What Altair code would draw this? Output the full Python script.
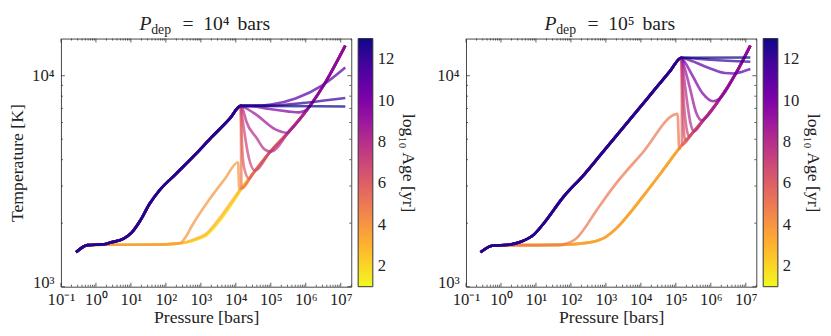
import altair as alt
import pandas as pd

SERIF = "Liberation Serif"

# ---------------- Panel 1 : P_dep = 1e4 bars ----------------
HOT1_P = [0.27, 0.57, 1.7, 2.6, 6.2, 10.5, 18, 35, 66, 195, 710, 2000, 6900, 1.38e4]
HOT1_T = [1456, 1574, 1589, 1619, 1690, 1803, 2042, 2484, 2865, 3427, 4250, 5100, 6300, 7200]
COLD1_P = [0.27, 0.57, 1.7, 10, 50, 195, 400, 800, 1340, 3170, 7500, 1.3e4]
COLD1_T = [1456, 1574, 1580, 1580, 1582, 1600, 1630, 1700, 1771, 2080, 2530, 2865]
YOUNG1_T = [1456, 1574, 1580, 1580, 1582, 1600, 1625, 1680, 1740, 2020, 2460, 2830]
DEEP1_P = [1.45e4, 3e4, 9.3e4, 3.35e5, 1.36e6, 3.2e6, 1.35e7]
DEEP1_T = [2920, 3415, 4330, 5450, 7250, 8980, 13900]
RAMP1_P = [270, 350, 563, 1660, 4900, 1.16e4, 1.25e4]
RAMP1_T = [1618, 1700, 1950, 2560, 3250, 3890, 2900]

# branches below the knee (age: (P list, T list, deep-adiabat rejoin pressure))
BR1 = {
    5: ([1.41e4], [4800], 1.45e4),
    6: ([1.42e4, 1.5e4, 1.7e4, 2.4e4], [6300, 4800, 3700, 3250], 3e4),
    7: ([1.5e4, 1.8e4, 2.2e4, 3.5e4], [6500, 5260, 4300, 3560], 9e4),
    8: ([1.6e4, 2.0e4, 3.9e4, 6.6e4, 1.02e5], [6900, 6070, 5080, 4480, 4370], 3e5),
    9: ([1.7e4, 3.9e4, 1.4e5, 3e5], [7100, 6520, 5550, 5360], 3.3e5),
    10: ([3e4, 9.3e4, 3e5, 6.5e5, 1.1e6], [7170, 6950, 6780, 6700, 6940], 1.3e6),
    11: ([3e4, 1e5, 5.1e5, 2.9e6, 1.35e7], [7200, 7300, 7800, 8980, 10940], 1e9),
    12: ([1e5, 1e6, 1.35e7], [7220, 7450, 7840], 1e9),
    13: ([1.35e7], [7150], 1e9),
}

# ---------------- Panel 2 : P_dep = 1e5 bars ----------------
HOT2_P = [0.26, 0.56, 1.7, 3.7, 8.9, 17, 62, 225, 730, 8000, 2.9e4, 6.9e4, 1.45e5]
HOT2_T = [1456, 1563, 1580, 1633, 1770, 2004, 2673, 3365, 4250, 6850, 8870, 10540, 12170]
COLD2_P = [0.26, 0.56, 1.7, 10, 50, 316, 925, 2200, 4500, 1e4, 3.6e4, 1.3e5]
COLD2_T = [1456, 1563, 1575, 1575, 1578, 1618, 1710, 1920, 2200, 2600, 3430, 4560]
DEEP2_P = [1.4e5, 3e5, 5.9e5, 1.7e6, 5.1e6, 1.35e7]
DEEP2_T = [4630, 5360, 6110, 7660, 10200, 13900]
RAMP2_P = [62, 100, 140, 182, 540, 1580, 1.1e4, 1.12e5, 1.25e5]
RAMP2_T = [1590, 1630, 1690, 1770, 2300, 2950, 4300, 6590, 4500]

BR2 = {
    6: ([1.48e5, 1.5e5], [8500, 4700], 3e5),
    6.5: ([1.5e5, 1.6e5, 1.85e5, 2.1e5], [10000, 6500, 4950, 5000], 3e5),
    7: ([1.52e5, 1.7e5, 2.0e5, 2.4e5], [10500, 7500, 5700, 5150], 3e5),
    8: ([1.6e5, 2e5, 2.6e5, 3.3e5], [10800, 8000, 6000, 5450], 5.9e5),
    9: ([1.7e5, 2.5e5, 3.8e5, 5.5e5, 7e5], [11200, 8800, 6700, 6150, 6300], 1.7e6),
    10: ([1.8e5, 3e5, 6e5, 1.17e6, 1.8e6], [11600, 10000, 8200, 7570, 7800], 5e6),
    11: ([3e5, 1e6, 2.5e6, 4.5e6, 8e6, 1.35e7], [11700, 10800, 10300, 10250, 10450, 10750], 1e9),
    12: ([1e6, 1.35e7], [11900, 11650], 1e9),
    13: ([1.35e7], [12200], 1e9),
}

X_MAJOR = [0.1, 1, 10, 100, 1e3, 1e4, 1e5, 1e6, 1e7]
X_LABELS = ["10⁻¹", "10⁰", "10¹", "10²", "10³", "10⁴", "10⁵", "10⁶", "10⁷"]
Y_MAJOR = [1000, 10000]
Y_LABELS = ["10³", "10⁴"]
AGE_TICKS = [2, 4, 6, 8, 10, 12]


def pick(P, T, lo=0.0, hi=1e99):
    return [(p, t) for p, t in zip(P, T) if lo <= p <= hi]


def build(hot, cold, young_t, deep, ramp, ramp_start, young_ages, ramp_age, branches):
    lines = []
    for a in young_ages:
        tt = young_t if (young_t is not None and a < 3) else cold[1]
        lines.append((a, list(zip(cold[0], tt)) + pick(*deep)))
    lines.append((ramp_age, pick(*cold, hi=ramp_start) + list(zip(*ramp)) + pick(*deep, lo=ramp[0][-1] * 1.01)))
    for a, (bp, bt, rejoin) in branches.items():
        lines.append((a, list(zip(*hot)) + list(zip(bp, bt)) + pick(*deep, lo=rejoin)))
    recs = []
    for k, (a, pts) in enumerate(lines):
        for i, (p, t) in enumerate(pts):
            recs.append({"line": "L%02d" % k, "age": a, "i": i, "P": p, "T": t})
    return pd.DataFrame(recs)


df1 = build((HOT1_P, HOT1_T), (COLD1_P, COLD1_T), YOUNG1_T, (DEEP1_P, DEEP1_T),
            (RAMP1_P, RAMP1_T), 200, [1, 2, 3], 4, BR1)
df2 = build((HOT2_P, HOT2_T), (COLD2_P, COLD2_T), None, (DEEP2_P, DEEP2_T),
            (RAMP2_P, RAMP2_T), 55, [1, 2, 3, 4], 5, BR2)

W, H = 296, 253
XS = alt.Scale(type="log", domain=[0.1, 2e7], nice=False)
YS = alt.Scale(type="log", domain=[1000, 15000], nice=False)

x_minor = [m * d for d in [0.1, 1, 10, 100, 1e3, 1e4, 1e5, 1e6, 1e7] for m in range(2, 10) if m * d <= 2e7]
y_minor = [m * 1000 for m in range(2, 10)]

xlab = "[" + ",".join("'%s'" % s for s in X_LABELS) + "][round(log(datum.value)/LN10)+1]"
ylab = "[" + ",".join("'%s'" % s for s in Y_LABELS) + "][round(log(datum.value)/LN10)-3]"


def axes(ytitle):
    ax = alt.Axis(values=X_MAJOR, labelExpr=xlab, ticks=False, domain=False, grid=False, labelPadding=5,
                  labelFontSize=17, labelFlush=False, labelOverlap=False, title="Pressure [bars]",
                  titleFontSize=18, titlePadding=2, titleFontWeight="normal", labelColor="#222",
                  titleColor="#222", labelFont=SERIF, titleFont=SERIF)
    ay = alt.Axis(values=Y_MAJOR, labelExpr=ylab, ticks=False, domain=False, grid=False, labelPadding=7,
                  labelFontSize=17, labelFlush=False, labelOverlap=False, title=ytitle, titleFontSize=18,
                  titlePadding=5, titleFontWeight="normal", labelColor="#222", titleColor="#222",
                  labelFont=SERIF, titleFont=SERIF,
                  labelOffset={"condition": {"test": "datum.value < 2000", "value": -4}, "value": 0})
    return ax, ay


def tick_layers(ax, ay):
    out = []
    for vals, ln in [(X_MAJOR, 4), (x_minor, 2)]:
        d = pd.DataFrame({"P": vals})
        for y0, y1 in [(H, H - ln), (0, ln)]:
            out.append(alt.Chart(d).mark_rule(color="#333", strokeWidth=0.8).encode(
                x=alt.X("P:Q", scale=XS, axis=ax), y=alt.value(y0), y2=alt.value(y1)))
    for vals, ln in [(Y_MAJOR, 4), (y_minor, 2)]:
        d = pd.DataFrame({"T": vals})
        for x0, x1 in [(0, ln), (W, W - ln)]:
            out.append(alt.Chart(d).mark_rule(color="#333", strokeWidth=0.8).encode(
                y=alt.Y("T:Q", scale=YS, axis=ay), x=alt.value(x0), x2=alt.value(x1)))
    return out


def panel(df, exp_txt, ytitle):
    ax, ay = axes(ytitle)
    lines = alt.Chart(df).mark_line(strokeWidth=2.7, strokeOpacity=0.72, interpolate="monotone").encode(
        x=alt.X("P:Q", scale=XS, axis=ax),
        y=alt.Y("T:Q", scale=YS, axis=ay),
        color=alt.Color("age:Q", scale=alt.Scale(scheme="plasma", reverse=True, domain=[1, 13]),
                        legend=alt.Legend(title="log₁₀ Age [yr]", orient="right", offset=7,
                                          gradientLength=H, gradientThickness=15, values=AGE_TICKS,
                                          labelFontSize=17, labelOffset=5, labelOverlap=False,
                                          labelFont=SERIF, titleFont=SERIF,
                                          titleFontSize=18, titleOrient="right",
                                          titleAnchor="middle", titleFontWeight="normal", titleColor="#222",
                                          labelColor="#222", gradientStrokeColor="#333",
                                          gradientStrokeWidth=1, titlePadding=5)),
        detail="line:N",
        order="i:Q",
    )
    one = pd.DataFrame({"a": [0]})
    ttl = [
        alt.Chart(one).mark_text(text="P", font=SERIF, fontSize=20, fontStyle="italic", align="left",
                                 baseline="alphabetic", color="#222").encode(x=alt.value(80), y=alt.value(-9)),
        alt.Chart(one).mark_text(text="dep", font=SERIF, fontSize=14, align="left",
                                 baseline="alphabetic", color="#222").encode(x=alt.value(92), y=alt.value(-5)),
        alt.Chart(one).mark_text(text="=", font=SERIF, fontSize=20, align="left",
                                 baseline="alphabetic", color="#222").encode(x=alt.value(124), y=alt.value(-9)),
        alt.Chart(one).mark_text(text=exp_txt, font=SERIF, fontSize=20, align="left",
                                 baseline="alphabetic", color="#222").encode(x=alt.value(145), y=alt.value(-9)),
        alt.Chart(one).mark_text(text="bars", font=SERIF, fontSize=20, align="left",
                                 baseline="alphabetic", color="#222").encode(x=alt.value(180), y=alt.value(-9)),
    ]
    return alt.layer(lines, *tick_layers(ax, ay), *ttl).properties(width=W, height=H)


p1 = panel(df1, "10⁴", "Temperature [K]")
p2 = panel(df2, "10⁵", None)

chart = alt.hconcat(p1, p2, spacing=18).resolve_scale(color="independent").properties(
    padding={"left": 0, "top": 2, "right": 0, "bottom": 0}
).configure(font=SERIF).configure_view(stroke="#444", strokeWidth=1)

chart.save("out.html", embed_options={"renderer": "svg", "actions": False})
